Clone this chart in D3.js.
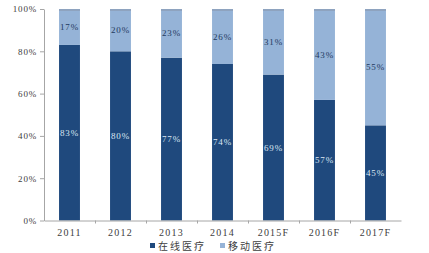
<!DOCTYPE html>
<html>
<head>
<meta charset="utf-8">
<script src="https://cdn.jsdelivr.net/npm/d3@7"></script>
<style>
  body { margin: 0; background: #fff; }
  svg { display: block; }
</style>
</head>
<body>
<svg id="chart" width="429" height="253"></svg>
<script>
const years = ["2011", "2012", "2013", "2014", "2015F", "2016F", "2017F"];
const online = [83, 80, 77, 74, 69, 57, 45];
const mobile = [17, 20, 23, 26, 31, 43, 55];
const seriesNames = ["在线医疗", "移动医疗"];
const yTicks = [0, 20, 40, 60, 80, 100];

const colors = ["#1f497d", "#95b3d7"];
const labelColors = ["#dce6f2", "#1f3a60"];

const svg = d3.select("#chart");
const margin = { left: 44, right: 28, top: 9, bottom: 32.5 };
const width = 429, height = 253;

const x = d3.scaleBand()
  .domain(years)
  .range([margin.left, width - margin.right])
  .paddingInner(0.59)
  .paddingOuter(0.295);

const y = d3.scaleLinear()
  .domain([0, 100])
  .range([height - margin.bottom, margin.top]);

const rows = years.map((yr, i) => ({ year: yr, online: online[i], mobile: mobile[i] }));
const stack = d3.stack().keys(["online", "mobile"]);
const layers = stack(rows);

// bars
svg.selectAll("g.layer")
  .data(layers)
  .enter()
  .append("g")
  .attr("class", "layer")
  .attr("fill", (d, i) => colors[i])
  .selectAll("rect")
  .data(d => d)
  .enter()
  .append("rect")
  .attr("x", d => x(d.data.year))
  .attr("width", x.bandwidth())
  .attr("y", d => y(d[1]))
  .attr("height", d => y(d[0]) - y(d[1]));

// top cap of bars
svg.selectAll("rect.cap")
  .data(rows)
  .enter()
  .append("rect")
  .attr("x", d => x(d.year))
  .attr("width", x.bandwidth())
  .attr("y", y(100))
  .attr("height", 2)
  .attr("fill", "#8ea3bf");

// value labels
layers.forEach((layer, li) => {
  svg.selectAll("text.v" + li)
    .data(layer)
    .enter()
    .append("text")
    .attr("x", d => x(d.data.year) + x.bandwidth() / 2)
    .attr("y", d => (y(d[0]) + y(d[1])) / 2)
    .attr("dy", "0.35em")
    .attr("text-anchor", "middle")
    .attr("fill", labelColors[li])
    .style("font-family", "'Liberation Serif', serif")
    .style("font-size", "9px")
    .style("letter-spacing", "0.8px")
    .text(d => (d[1] - d[0]) + "%");
});

// y axis
const yAxis = svg.append("g")
  .attr("transform", "translate(" + margin.left + ",0)")
  .call(d3.axisLeft(y).tickValues(yTicks).tickFormat(d => d + "%").tickSize(4).tickSizeOuter(0));
yAxis.select(".domain").attr("stroke", "#a6a6a6");
yAxis.selectAll(".tick line").attr("stroke", "#a6a6a6");
yAxis.selectAll("text")
  .attr("x", -7)
  .attr("fill", "#404040")
  .style("font-family", "'Liberation Serif', serif")
  .style("font-size", "9px")
  .style("letter-spacing", "0.8px");

// x axis
const xAxis = svg.append("g")
  .attr("transform", "translate(0," + y(0) + ")")
  .call(d3.axisBottom(x).tickSize(0).tickSizeOuter(0));
xAxis.select(".domain").attr("stroke", "#a6a6a6");
xAxis.selectAll("text")
  .attr("y", 8)
  .attr("fill", "#404040")
  .style("font-family", "'Liberation Serif', serif")
  .style("font-size", "10px")
  .style("letter-spacing", "1.2px");
// boundary ticks between categories
xAxis.selectAll("line.sep")
  .data(years.slice(0, -1))
  .enter()
  .append("line")
  .attr("class", "sep")
  .attr("x1", d => x(d) + x.step() - x.step() * x.paddingInner() / 2 + 0.5)
  .attr("x2", d => x(d) + x.step() - x.step() * x.paddingInner() / 2 + 0.5)
  .attr("y1", 0)
  .attr("y2", 3)
  .attr("stroke", "#a6a6a6");

// legend
const legendX = [150, 220];
const legend = svg.selectAll("g.legend")
  .data(seriesNames)
  .enter()
  .append("g")
  .attr("class", "legend")
  .attr("transform", (d, i) => "translate(" + legendX[i] + ",246)");
legend.append("rect")
  .attr("x", 0)
  .attr("y", -3)
  .attr("width", 5)
  .attr("height", 5)
  .attr("fill", (d, i) => colors[i]);
legend.append("text")
  .attr("x", 8)
  .attr("dy", "0.35em")
  .attr("fill", "#404040")
  .style("font-family", "'Noto Sans CJK SC', sans-serif")
  .style("font-size", "10px")
  .style("letter-spacing", "2px")
  .text(d => d);
</script>
</body>
</html>
